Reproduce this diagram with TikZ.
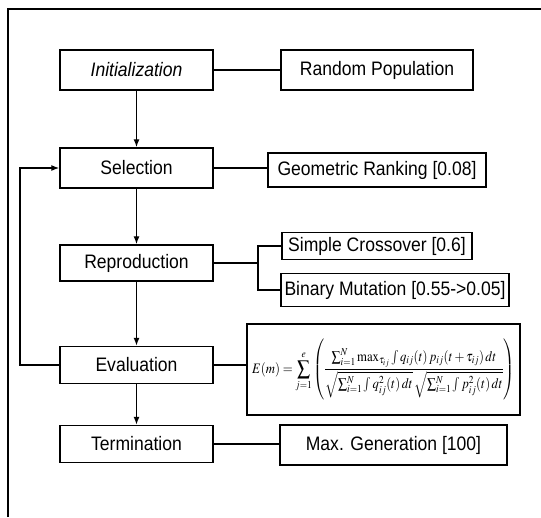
\documentclass[tikz,border=0pt]{standalone}
\usepackage{amsmath}
\usepackage{mathptmx}
\usepackage[no-math]{fontspec}
\setmainfont{Liberation Sans}[FakeStretch=0.9]
\usetikzlibrary{arrows.meta}
\tikzset{
  stage/.style={draw, line width=1.4pt, minimum width=153pt, inner sep=0pt,
    font=\fontsize{19.5}{22}\selectfont},
  param/.style={draw, line width=1.4pt, inner sep=0pt,
    font=\fontsize{19.5}{22}\selectfont},
  link/.style={line width=1.3pt},
  flow/.style={line width=1.3pt, -{Latex[length=8pt,width=6pt]}},
}
\begin{document}
\begin{tikzpicture}[x=1pt, y=-1pt]
\useasboundingbox (0,0) rectangle (541,517);

% outer frame (open to the right and bottom)
\coordinate (fbot) at (8,517);
\coordinate (fcorner) at (8,9);
\coordinate (ftop) at (541,9);
\draw[line width=1.3pt] (fbot) -- (fcorner) -- (ftop);

% algorithm stages
\node[stage, minimum height=40pt] (init) at (136.5,70) {\itshape Initialization};
\node[stage, minimum height=40pt] (sel)  at (136.5,168) {Selection};
\node[stage, minimum height=36pt] (rep)  at (136.5,263) {Reproduction};
\node[stage, minimum height=37pt] (eval) at (136.5,365) {Evaluation};
\node[stage, minimum height=37pt] (term) at (136.5,444) {Termination};

% operator parameters
\node[param, minimum width=192pt, minimum height=40pt] (pop) at (377,70) {Random Population};
\node[param, minimum width=218pt, minimum height=34pt] (rank) at (377,170) {Geometric Ranking [0.08]};
\node[param, minimum width=190pt, minimum height=27pt] (cross) at (377,246) {Simple Crossover [0.6]};
\node[param, minimum width=228pt, minimum height=33pt] (mut) at (395,290) {Binary Mutation [0.55->0.05]};
\node[param, minimum width=273pt, minimum height=91pt] (fit) at (383.5,369.5) {%
  \scalebox{0.75}[0.85]{\fontsize{17}{20}\selectfont\boldmath$\displaystyle
  E(m)=\sum_{j=1}^{e}\left(\frac{\sum_{i=1}^{N}\max_{\tau_{ij}}\int q_{ij}(t)\,p_{ij}(t+\tau_{ij})\,dt}
  {\sqrt{\sum_{i=1}^{N}\int q_{ij}^{2}(t)\,dt}\,\sqrt{\sum_{i=1}^{N}\int p_{ij}^{2}(t)\,dt}}\right)$}};
\node[param, minimum width=227pt, minimum height=40pt] (maxg) at (393.5,445) {Max. Generation [100]};

% main flow
\draw[flow] (init) -- (sel);
\draw[flow] (sel) -- (rep);
\draw[flow] (rep) -- (eval);
\draw[flow] (eval) -- (term);

% feedback loop back to selection
\coordinate (loopb) at (20,365);
\coordinate (loopt) at (20,168);
\draw[flow] (eval.west) -- (loopb) -- (loopt) -- (sel.west);

% links to parameters
\draw[link] (init) -- (pop);
\draw[link] (sel.east) -- (sel.east -| rank.west);
\coordinate (bj) at (258,263);
\draw[link] (rep.east) -- (bj);
\draw[link] (cross.west) -| (bj) |- (mut.west);
\draw[link] (eval.east) -- (eval.east -| fit.west);
\draw[link] (term.east) -- (term.east -| maxg.west);
\end{tikzpicture}
\end{document}
